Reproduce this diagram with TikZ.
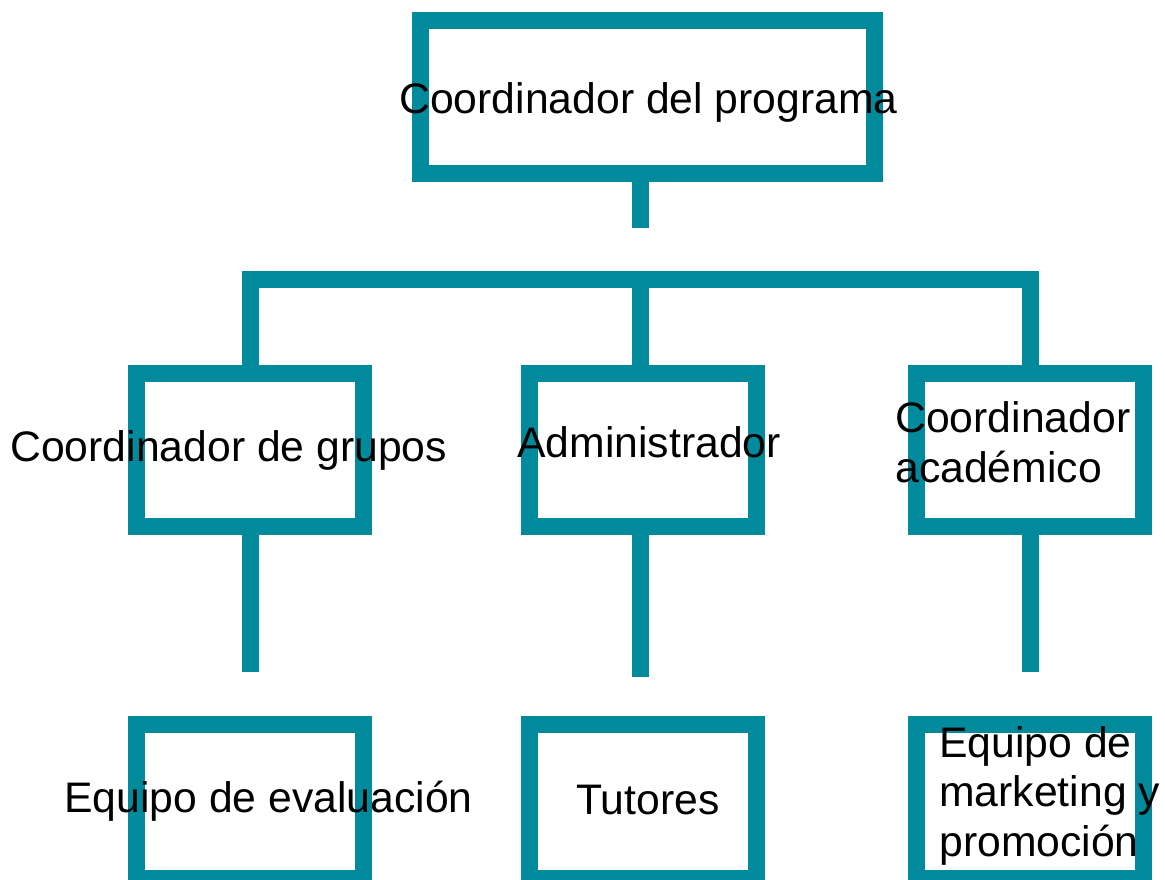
\documentclass[tikz,border=0pt]{standalone}
\usepackage{fontspec}
\setmainfont{Liberation Sans}
\usepackage{xcolor}
\usepackage{tikz}
\definecolor{orgteal}{RGB}{0,138,155}

\begin{document}
\begin{tikzpicture}[x=0.02cm, y=-0.02cm,
    box/.style={draw=orgteal, line width=0.34cm, minimum width=4.56cm, minimum height=3.08cm, inner sep=0pt},
    link/.style={draw=orgteal, line width=0.34cm, line join=miter},
    lbl/.style={inner sep=0pt, anchor=base west, font=\fontsize{24.3}{27.9}\selectfont}]
         \useasboundingbox (0,0) rectangle (1165,879);
         \clip (0,0) rectangle (1165,879);
         % Boxes
         \node [box, minimum width=9.08cm] (boss) at (647.5,97) {};
         \node [box] (grupos) at (250,450) {};
         \node [box] (admin)  at (643,450) {};
         \node [box] (acad)   at (1030,450) {};
         \node [box] (evalua) at (250,801) {};
         \node [box] (tutor)  at (643,801) {};
         \node [box] (market) at (1030,801) {};
         % Links
         \coordinate (stub) at (640,228);
         \coordinate (bar)  at (640,279);
         \coordinate (gEnd) at (250,672);
         \coordinate (aEnd) at (640,677);
         \coordinate (cEnd) at (1030,672);
         \draw [link] (stub |- boss.south) -- (stub);
         \draw [link] (grupos.north) |- (bar) -| (acad.north);
         \draw [link] (bar) -- (bar |- admin.north);
         \foreach \n/\e in {grupos/gEnd, admin/aEnd, acad/cEnd} \draw [link] (\e |- \n.south) -- (\e);
         % Labels
         \node [lbl] (tBoss)   at (399,113) {Coordinador del programa};
         \node [lbl] (tGrupos) at (10,461) {Coordinador de grupos};
         \node [lbl] (tAdmin)  at (517,457) {Administrador};
         \node [lbl, align=left] (tAcad) at (895,482) {Coordinador\\académico};
         \node [lbl] (tEvalua) at (64,812) {Equipo de evaluación};
         \node [lbl] (tTutor)  at (576,814) {Tutores};
         \node [lbl, align=left] (tMarket) at (939,856) {Equipo de\\marketing y\\promoción};
     \end{tikzpicture}
\end{document}
